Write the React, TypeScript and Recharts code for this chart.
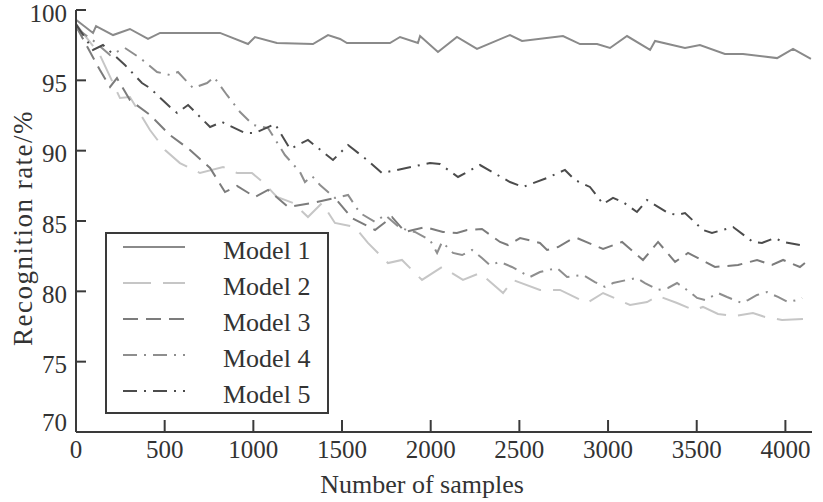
import { LineChart, Line, XAxis, YAxis } from 'recharts'

// values
const model1X = [0, 96, 113, 209, 304, 406, 474, 812, 970, 1009, 1133, 1336, 1421, 1489, 1528, 1770, 1827, 1928, 1940, 2041, 2148, 2261, 2447, 2515, 2746, 2842, 2938, 3011, 3107, 3237, 3265, 3434, 3518, 3659, 3761, 3953, 4043, 4144]
const model1Y = [99.3, 98.37, 98.86, 98.22, 98.65, 97.94, 98.37, 98.37, 97.58, 98.08, 97.65, 97.58, 98.22, 97.94, 97.65, 97.65, 98.08, 97.65, 98.15, 97.01, 98.08, 97.23, 98.22, 97.8, 98.15, 97.58, 97.58, 97.3, 98.15, 97.16, 97.8, 97.3, 97.51, 96.87, 96.87, 96.58, 97.23, 96.52]

const model2X = [0, 135, 248, 304, 417, 502, 586, 699, 829, 908, 992, 1054, 1133, 1224, 1308, 1387, 1460, 1573, 1646, 1759, 1838, 1951, 2064, 2182, 2278, 2408, 2464, 2616, 2729, 2881, 2972, 3124, 3220, 3282, 3389, 3485, 3535, 3620, 3716, 3817, 3885, 3981, 4099]
const model2Y = [99.0, 96.8, 93.74, 93.81, 91.47, 90.05, 89.12, 88.41, 88.84, 88.41, 88.41, 87.77, 86.71, 86.28, 85.28, 86.28, 84.86, 84.57, 83.44, 82.01, 82.23, 80.81, 81.73, 80.81, 81.3, 79.88, 80.81, 80.1, 80.1, 79.17, 79.88, 79.03, 79.24, 79.67, 79.17, 78.67, 78.89, 78.39, 78.25, 78.46, 78.18, 77.96, 78.03]

const model3X = [0, 135, 192, 231, 304, 417, 530, 643, 756, 840, 908, 1009, 1083, 1195, 1331, 1460, 1556, 1686, 1782, 1855, 1968, 2069, 2148, 2205, 2289, 2391, 2436, 2504, 2616, 2656, 2718, 2785, 2825, 2972, 3079, 3197, 3282, 3378, 3451, 3603, 3733, 3840, 3924, 3987, 4082, 4110]
const model3Y = [98.86, 95.73, 94.53, 95.16, 93.6, 92.54, 91.11, 90.05, 88.77, 87.06, 87.49, 86.71, 87.21, 86.0, 86.28, 86.64, 85.21, 84.36, 85.28, 84.22, 84.57, 84.22, 84.15, 84.36, 84.43, 83.51, 83.29, 83.79, 83.44, 82.94, 83.15, 83.65, 83.79, 83.01, 83.51, 82.23, 83.51, 82.09, 82.73, 81.73, 81.87, 82.23, 81.87, 82.23, 81.73, 82.01]

const model4X = [0, 107, 192, 276, 361, 457, 530, 575, 660, 739, 778, 851, 925, 998, 1083, 1178, 1263, 1291, 1331, 1376, 1460, 1534, 1601, 1686, 1742, 1827, 1911, 1996, 2036, 2064, 2126, 2177, 2233, 2289, 2334, 2391, 2458, 2560, 2616, 2712, 2769, 2859, 2926, 2983, 3028, 3107, 3163, 3208, 3282, 3338, 3389, 3462, 3502, 3547, 3620, 3671, 3755, 3789, 3840, 3896, 3958, 4015, 4065, 4094]
const model4Y = [98.72, 97.73, 96.8, 97.3, 96.59, 95.59, 95.38, 95.59, 94.45, 94.81, 95.23, 93.96, 92.75, 91.83, 91.61, 89.69, 88.48, 87.77, 88.2, 87.56, 86.64, 86.85, 85.57, 84.93, 85.43, 84.5, 84.22, 83.65, 82.73, 83.51, 82.73, 82.58, 82.94, 82.37, 81.87, 82.09, 81.73, 81.02, 81.37, 81.66, 81.02, 81.16, 80.66, 80.31, 80.59, 80.81, 80.95, 80.59, 80.1, 80.24, 80.59, 79.95, 79.53, 79.38, 79.88, 79.6, 79.17, 79.38, 79.74, 79.95, 79.6, 79.24, 79.38, 79.53]

const model5X = [0, 96, 152, 276, 372, 417, 530, 570, 632, 756, 823, 953, 1009, 1122, 1207, 1308, 1449, 1534, 1641, 1725, 1810, 1996, 2052, 2154, 2278, 2447, 2520, 2656, 2757, 2814, 2898, 2972, 3028, 3084, 3163, 3220, 3338, 3389, 3434, 3535, 3586, 3705, 3817, 3868, 3941, 3987, 4110]
const model5Y = [99.0, 97.16, 97.51, 96.09, 94.81, 94.45, 93.1, 92.68, 93.25, 91.68, 92.04, 91.26, 91.26, 91.9, 90.12, 90.76, 89.34, 90.4, 89.34, 88.41, 88.63, 89.12, 89.05, 88.13, 88.98, 87.77, 87.42, 88.06, 88.63, 87.91, 87.42, 86.21, 86.64, 86.35, 85.64, 86.49, 85.57, 85.43, 85.57, 84.36, 84.15, 84.57, 83.51, 83.44, 83.79, 83.51, 83.22]

const xTicks = [0, 500, 1000, 1500, 2000, 2500, 3000, 3500, 4000]
const yTicks = [70, 75, 80, 85, 90, 95, 100]

const zip = (xs: number[], ys: number[]) => xs.map((x, i) => ({ x, y: ys[i] }))

const series = [
  { name: 'Model 1', data: zip(model1X, model1Y), color: '#8a8a8a', dash: undefined },
  { name: 'Model 2', data: zip(model2X, model2Y), color: '#c6c6c6', dash: '28 12' },
  { name: 'Model 3', data: zip(model3X, model3Y), color: '#7c7c7c', dash: '15 8' },
  { name: 'Model 4', data: zip(model4X, model4Y), color: '#8e8e8e', dash: '14 7 2 7' },
  { name: 'Model 5', data: zip(model5X, model5Y), color: '#4c4c4c', dash: '14 7 2 7' },
]

const AXIS = '#3a3a3a'
const TEXT = '#333'
const FONT = '"Liberation Serif", "Times New Roman", serif'

function XTick({ x, y, payload }: any) {
  return (
    <g>
      <line x1={x} y1={y} x2={x} y2={y - 12} stroke={AXIS} strokeWidth={2} />
      <text x={x} y={y + 26} textAnchor="middle" fill={TEXT} fontSize={25} fontFamily={FONT}>
        {payload.value}
      </text>
    </g>
  )
}

function YTick({ x, y, payload }: any) {
  // bottom label sits a bit higher in the original
  const ty = payload.value === 70 ? y - 10 : y + 3
  return (
    <g>
      <line x1={x} y1={y} x2={x + 10} y2={y} stroke={AXIS} strokeWidth={2} />
      <text x={x - 9} y={ty} dy="0.35em" textAnchor="end" fill={TEXT} fontSize={25} fontFamily={FONT}>
        {payload.value}
      </text>
    </g>
  )
}

function XTitle({ viewBox }: any) {
  const { x, y, width } = viewBox
  return (
    <text x={x + width / 2 - 22} y={y + 61} textAnchor="middle" fill={TEXT} fontSize={26} fontFamily={FONT}>
      Number of samples
    </text>
  )
}

function YTitle({ viewBox }: any) {
  const { x, y, height } = viewBox
  return (
    <text
      transform={`translate(${x + 7}, ${y + height / 2 + 7}) rotate(-90)`}
      textAnchor="middle"
      dominantBaseline="central"
      fill={TEXT}
      fontSize={27}
      letterSpacing={1.5}
      fontFamily={FONT}
    >
      Recognition rate/%
    </text>
  )
}

function LegendBox() {
  return (
    <div
      style={{
        position: 'absolute',
        left: 105,
        top: 232,
        width: 224,
        height: 182,
        boxSizing: 'border-box',
        border: `2px solid ${AXIS}`,
        background: '#fff',
      }}
    >
      <svg width={220} height={178}>
        {series.map((s, i) => {
          const cy = 16 + i * 36
          return (
            <g key={s.name}>
              <line x1={16} y1={cy - 3} x2={78} y2={cy - 3} stroke={s.color} strokeWidth={2} strokeDasharray={s.dash} />
              <text x={116} y={cy} dy="0.35em" fill={TEXT} fontSize={26} fontFamily={FONT}>
                {s.name}
              </text>
            </g>
          )
        })}
      </svg>
    </div>
  )
}

export default function App() {
  return (
    <div style={{ position: 'absolute', left: 0, top: 0, width: 823, height: 502, background: '#fff' }}>
      <LineChart width={823} height={502} margin={{ top: 10, right: 11, left: 16, bottom: 0 }}>
        <XAxis
          dataKey="x"
          type="number"
          domain={[0, 4150]}
          ticks={xTicks}
          interval={0}
          allowDataOverflow
          height={70}
          tickSize={0}
          tickMargin={0}
          tickLine={false}
          axisLine={{ stroke: AXIS, strokeWidth: 2 }}
          tick={<XTick />}
          label={<XTitle />}
        />
        <YAxis
          type="number"
          domain={[70, 100]}
          ticks={yTicks}
          interval={0}
          allowDataOverflow
          width={60}
          tickSize={0}
          tickMargin={0}
          tickLine={false}
          axisLine={{ stroke: AXIS, strokeWidth: 2 }}
          tick={<YTick />}
          label={<YTitle />}
        />
        {series.map((s) => (
          <Line
            key={s.name}
            data={s.data}
            dataKey="y"
            name={s.name}
            type="linear"
            stroke={s.color}
            strokeWidth={2}
            strokeDasharray={s.dash}
            dot={false}
            activeDot={false}
            isAnimationActive={false}
          />
        ))}
      </LineChart>
      <LegendBox />
    </div>
  )
}
